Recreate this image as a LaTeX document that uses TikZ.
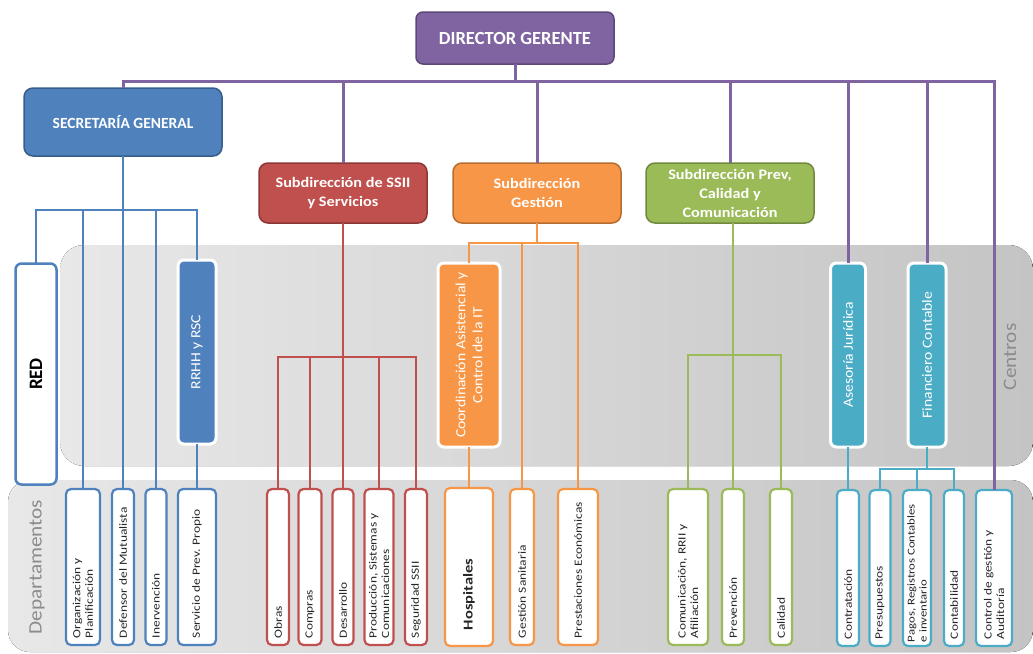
\documentclass[tikz,border=0pt]{standalone}
\usepackage{fontspec}
\setmainfont{Carlito}
\newfontfamily\widefont[FakeStretch=1.12]{Carlito}
\newfontfamily\deptfont[FakeStretch=1.22]{Carlito}
\usetikzlibrary{positioning}
\definecolor{purplebox}{HTML}{8064A2}
\definecolor{purpleedge}{HTML}{5C4776}
\definecolor{bluebox}{HTML}{4F81BD}
\definecolor{blueedge}{HTML}{385D8A}
\definecolor{redbox}{HTML}{C0504D}
\definecolor{rededge}{HTML}{8C3836}
\definecolor{orangebox}{HTML}{F79646}
\definecolor{orangeedge}{HTML}{B66D31}
\definecolor{greenbox}{HTML}{9BBB59}
\definecolor{greenedge}{HTML}{71893F}
\definecolor{tealbox}{HTML}{4BACC6}
\definecolor{bandlight}{HTML}{E8E8E8}
\definecolor{banddark}{HTML}{C4C4C4}
\tikzset{
every node/.style={inner sep=0pt, outer sep=0pt}, % boxes are sized by hand
director/.style={draw=purpleedge, fill=purplebox, line width=1.5pt, rounded corners=7pt, text=white, font=\bfseries\fontsize{18.5}{22}\selectfont, minimum width=198pt, minimum height=52pt},
headbox/.style={draw=#1edge, fill=#1box, line width=1.5pt, rounded corners=9pt, text=white, align=center, font=\widefont\bfseries\fontsize{14.5}{19}\selectfont, minimum width=168pt, minimum height=60pt}, % the boxes under the director
unit/.style={draw=white, fill=#1, line width=3pt, rounded corners=6pt, rotate=90, text=white, align=center, font=\widefont\fontsize{14}{17}\selectfont, minimum width=184pt}, % boxes standing in the Centros band
dept/.style={draw=#1, fill=white, line width=2.2pt, rounded corners=5pt, rotate=90, inner xsep=7pt, text width=142pt, align=flush left, text=black!85, font=\deptfont\fontsize{11}{12.5}\selectfont}, % departments at the bottom
bandlabel/.style={rotate=90, text=black!45, font=\widefont\fontsize{19}{22}\selectfont},
mainline/.style={draw=purplebox, line width=3pt},
subline/.style={draw=#1, line width=1.2pt},
}
\begin{document}
\begin{tikzpicture}[x=1pt, y=-1pt]
  \useasboundingbox (0,0) rectangle (1033,653);
  % the two grey bands
  \fill[left color=bandlight, right color=banddark, rounded corners=24pt] (60,245) rectangle (1033,466);
  \fill[left color=bandlight, right color=banddark, rounded corners=22pt] (8,480) rectangle (1033,652);
  \node[bandlabel] (centros) at (1010,357) {Centros};
  \node[bandlabel] (deptos) at (37,567) {Departamentos};

  \node[director] (dg) at (515,38) {DIRECTOR GERENTE};
  \node[headbox=blue, minimum width=198pt, minimum height=68pt, font=\bfseries\fontsize{15.5}{18}\selectfont] (sg) at (123,122) {SECRETARÍA GENERAL};
  \node[headbox=red] (ssii) at (343,193) {Subdirección de SSII\\y Servicios};
  \node[headbox=orange] (gest) at (537,193) {Subdirección\\Gestión};
  \node[headbox=green] (prev) at (730,193) {Subdirección Prev,\\Calidad y\\Comunicación};

  \node[draw=bluebox, fill=white, line width=2.5pt, rounded corners=6pt, rotate=90, minimum width=221pt, minimum height=41pt, font=\bfseries\fontsize{19}{22}\selectfont] (red) at (36,374) {RED};
  \node[unit=bluebox, minimum height=38pt] (rrhh) at (197,352) {RRHH y RSC};
  \node[unit=orangebox, minimum height=62pt] (coord) at (469,355) {Coordinación Asistencial y\\Control de la IT};
  \node[unit=tealbox, minimum height=35pt] (aseso) at (848,355) {Asesoría Jurídica};
  \node[unit=tealbox, minimum height=38pt] (finan) at (927,355) {Financiero Contable};

  \node[dept=bluebox, minimum height=34pt] (org) at (83,567) {Organización y\\Planificación};
  \node[dept=bluebox, minimum height=22pt] (defen) at (123,567) {Defensor del Mutualista};
  \node[dept=bluebox, minimum height=21pt] (inerv) at (156,567) {Inervención};
  \node[dept=bluebox, minimum height=38pt] (servi) at (197,567) {Servicio de Prev. Propio};
  \node[dept=redbox, minimum height=22pt] (obras) at (278,567) {Obras};
  \node[dept=redbox, minimum height=23pt] (compr) at (310,567) {Compras};
  \node[dept=redbox, minimum height=21pt] (desar) at (343,567) {Desarrollo};
  \node[dept=redbox, minimum height=29pt] (produ) at (379,567) {Producción, Sistemas y\\Comunicaciones};
  \node[dept=redbox, minimum height=22pt] (segur) at (416,567) {Seguridad SSII};
  \node[dept=orangebox, minimum height=48pt, font=\deptfont\bfseries\fontsize{13.5}{16}\selectfont, inner xsep=16pt, text width=126pt] (hosp) at (469,567) {Hospitales};
  \node[dept=orangebox, minimum height=24pt] (gsan) at (522,567) {Gestión Sanitaria};
  \node[dept=orangebox, minimum height=40pt] (prest) at (578,567) {Prestaciones Económicas};
  \node[dept=greenbox, minimum height=40pt] (comun) at (688,567) {Comunicación, RRII y\\Afiliación};
  \node[dept=greenbox, minimum height=22pt] (preve) at (733,567) {Prevención};
  \node[dept=greenbox, minimum height=22pt] (calid) at (781,567) {Calidad};
  \node[dept=tealbox, minimum height=22pt] (contr) at (848,568) {Contratación};
  \node[dept=tealbox, minimum height=21pt] (presu) at (880,568) {Presupuestos};
  \node[dept=tealbox, minimum height=28pt, inner xsep=4pt, text width=148pt, font=\deptfont\fontsize{10.5}{12}\selectfont] (pagos) at (917,568) {Pagos, Registros Contables\\e inventario};
  \node[dept=tealbox, minimum height=20pt] (conta) at (954,568) {Contabilidad};
  \node[dept=tealbox, minimum height=36pt] (contg) at (994,568) {Control de gestión y\\Auditoría};

  % director to the first level
  \coordinate (topbus) at (515,81);
  \draw[mainline] (dg.south) -- (topbus);
  \draw[mainline] (sg.north) |- (topbus) -| (contg.east);
  \draw[mainline] (ssii.north) -- (ssii.north |- topbus);
  \draw[mainline] (gest.north) -- (gest.north |- topbus);
  \draw[mainline] (prev.north) -- (prev.north |- topbus);
  \draw[mainline] (aseso.east) -- (aseso.east |- topbus);
  \draw[mainline] (finan.east) -- (finan.east |- topbus);

  % secretaria general
  \coordinate (bluebus) at (123,210);
  \draw[subline=bluebox] (sg.south) -- (defen.east);
  \draw[subline=bluebox] (red.east) |- (bluebus) -| (rrhh.east);
  \draw[subline=bluebox] (org.east) -- (org.east |- bluebus);
  \draw[subline=bluebox] (inerv.east) -- (inerv.east |- bluebus);
  \draw[subline=bluebox] (rrhh.west) -- (servi.east);

  % SSII y servicios
  \coordinate (redbus) at (343,357);
  \draw[subline=redbox] (ssii.south) -- (desar.east);
  \draw[subline=redbox] (obras.east) |- (redbus) -| (segur.east);
  \draw[subline=redbox] (compr.east) -- (compr.east |- redbus);
  \draw[subline=redbox] (produ.east) -- (produ.east |- redbus);

  % gestion
  \coordinate (orangebus) at (537,243);
  \draw[subline=orangebox] (gest.south) -- (orangebus);
  \draw[subline=orangebox] (coord.east) |- (orangebus) -| (prest.east);
  \draw[subline=orangebox] (gsan.east) -- (gsan.east |- orangebus);
  \draw[subline=orangebox] (coord.west) -- (hosp.east);

  % prevencion, calidad y comunicacion
  \coordinate (greenbus) at (733,355);
  \draw[subline=greenbox] (prev.south -| preve.east) -- (preve.east);
  \draw[subline=greenbox] (comun.east) |- (greenbus) -| (calid.east);

  % asesoria y financiero
  \coordinate (tealbus) at (927,469);
  \draw[subline=tealbox] (aseso.west) -- (contr.east);
  \draw[subline=tealbox] (finan.west) -- (tealbus);
  \draw[subline=tealbox] (presu.east) |- (tealbus) -| (conta.east);
  \draw[subline=tealbox] (pagos.east) -- (pagos.east |- tealbus);
\end{tikzpicture}
\end{document}
